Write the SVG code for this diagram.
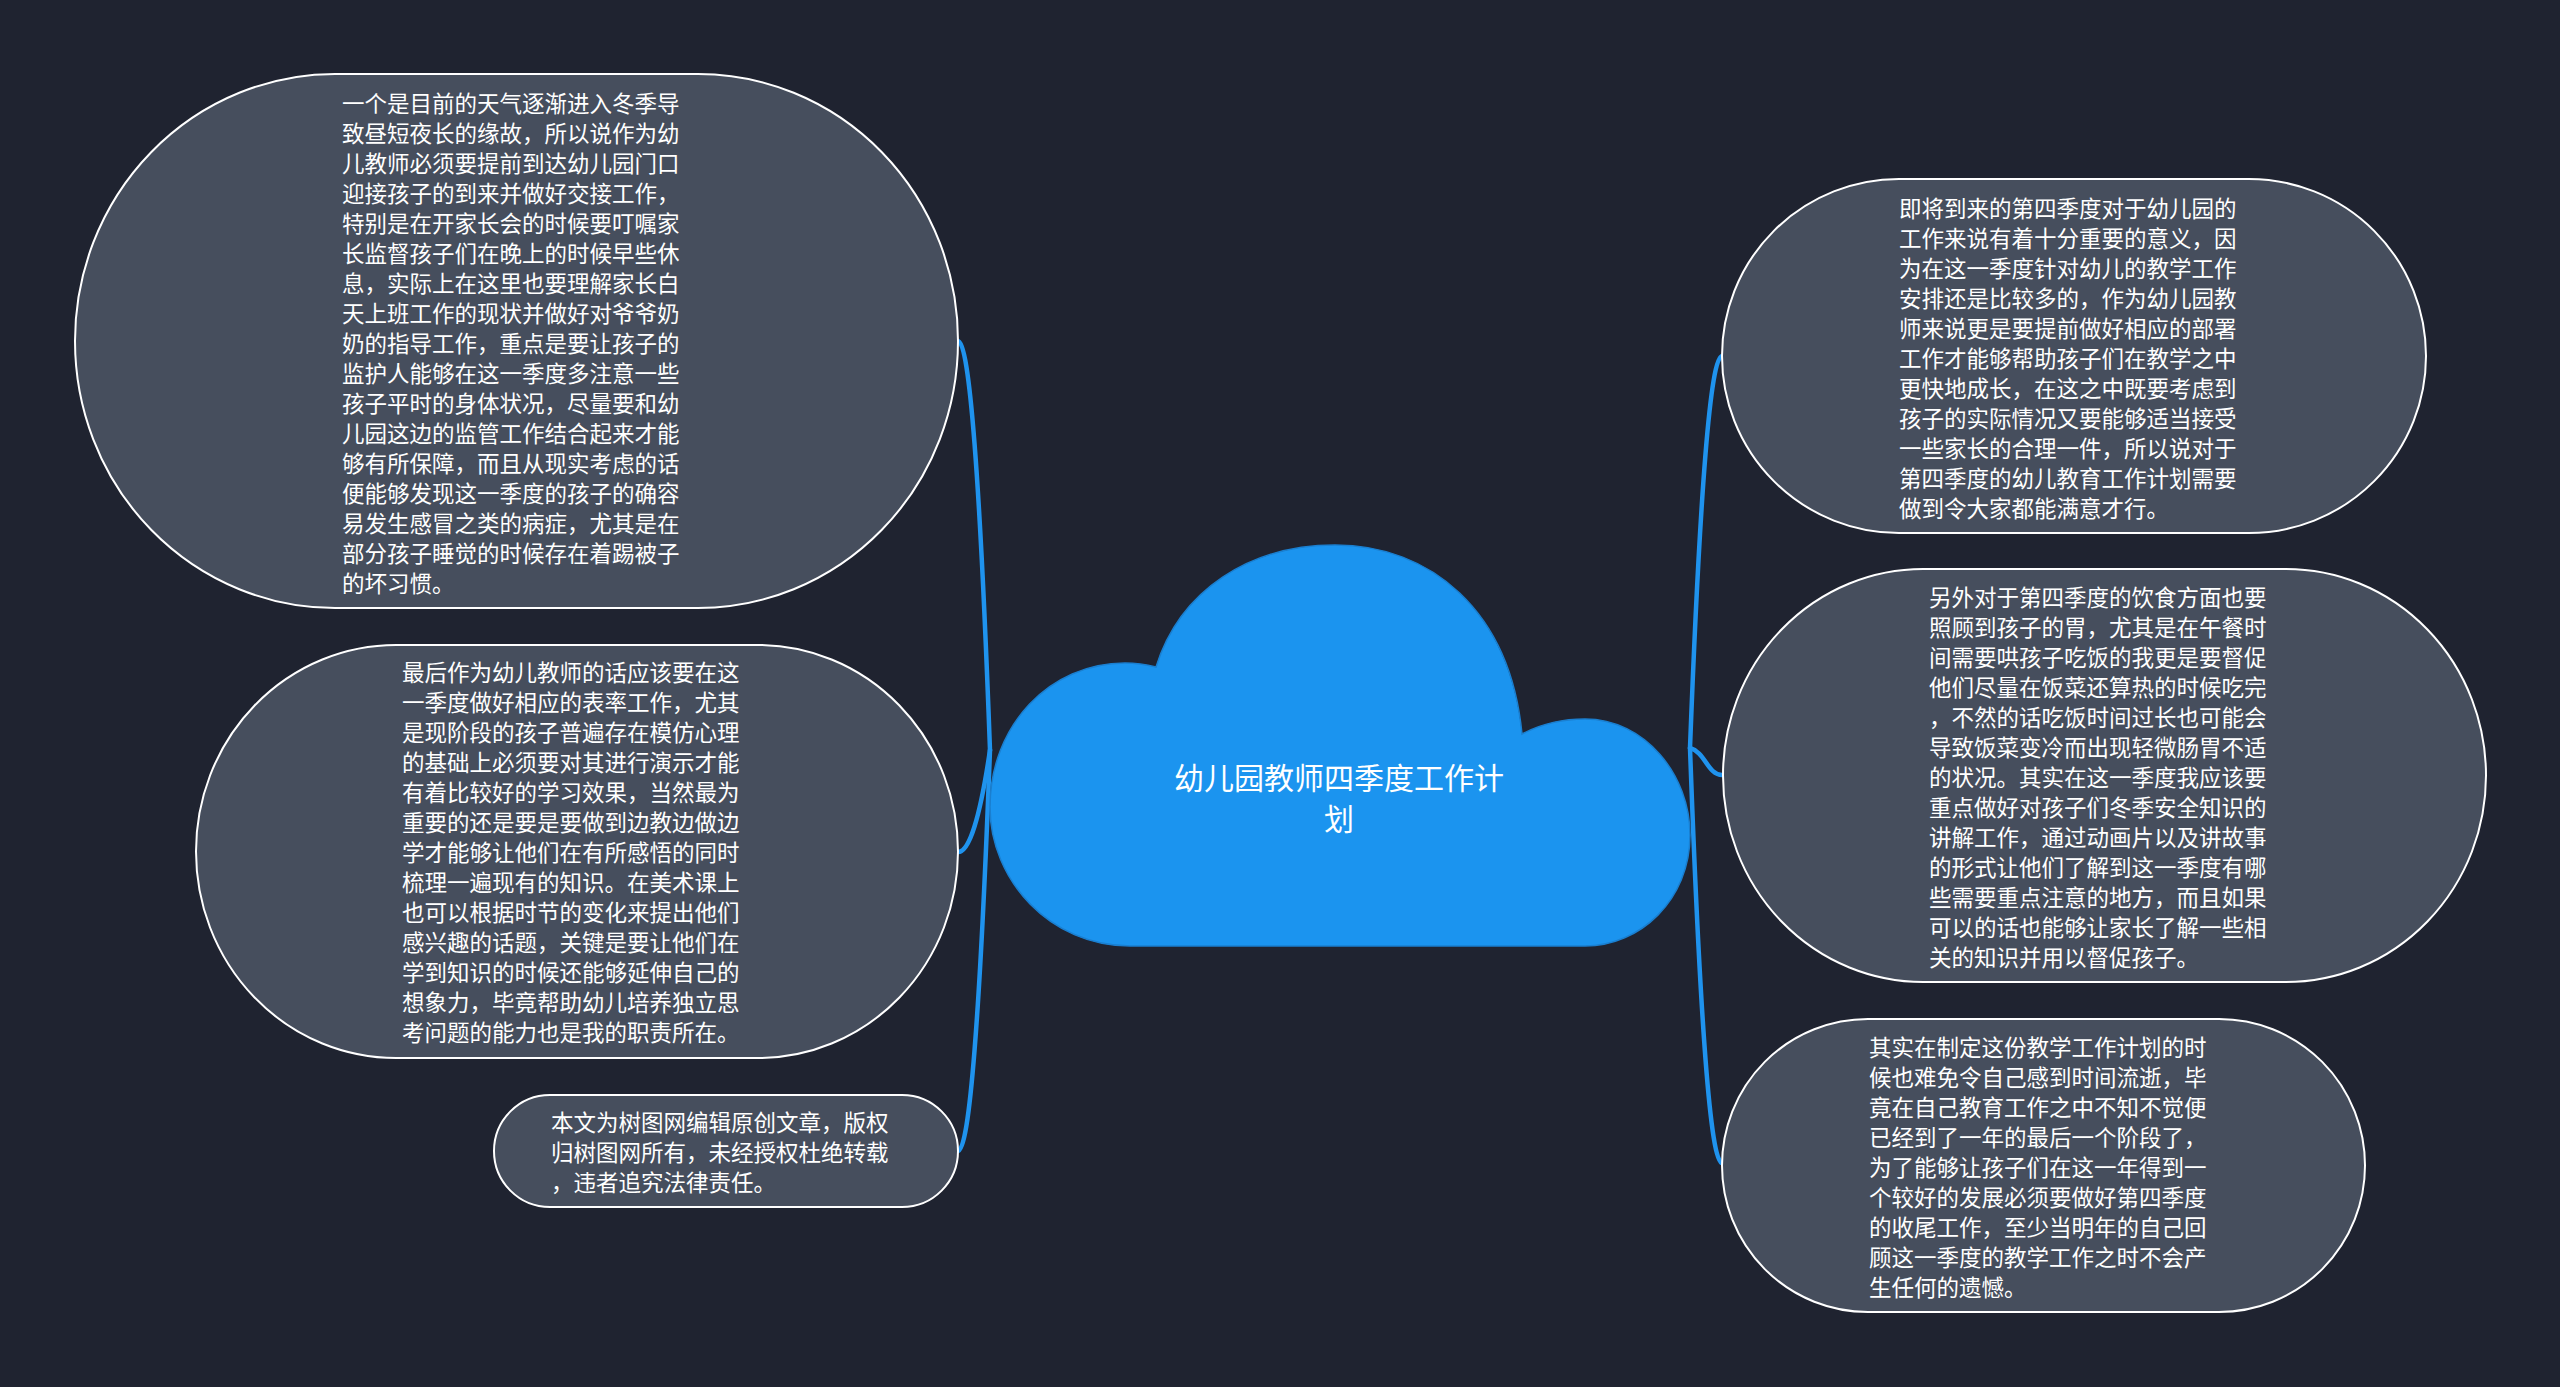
<svg xmlns="http://www.w3.org/2000/svg" width="2560" height="1387" viewBox="0 0 2560 1387">
<style>
.bg{fill:#1f2330}
.node{fill:#464e5d;stroke:#ffffff;stroke-width:2}
.t{font-family:"Noto Sans CJK SC","Noto Sans",sans-serif;font-size:22.5px;fill:#ffffff}
.ct{font-family:"Noto Sans CJK SC","Noto Sans",sans-serif;font-size:30px;fill:#ffffff;text-anchor:middle}
.edge{fill:none;stroke:#1f93ee;stroke-width:4.5;stroke-linecap:round}
</style>
<rect class="bg" x="0" y="0" width="2560" height="1387"/>
<g id="connectors">
<path class="edge" d="M990 750 Q975 341 958 341"/>
<path class="edge" d="M990 750 Q975 852 958 852"/>
<path class="edge" d="M990 750 Q975 1151 958 1151"/>
<path class="edge" d="M1690 748 Q1705 356 1722 356"/>
<path class="edge" d="M1690 748 C1705 752 1708 775 1722 775"/>
<path class="edge" d="M1690 748 Q1705 1163 1722 1163"/>
</g>
<g id="center">
<path d="M1156 667 C1180 590 1250 545 1335 545 C1430 545 1510 610 1522 734 C1545 722 1565 719 1585 719 C1645 719 1690 775 1690 835 C1690 900 1640 946 1585 946 L1130 946 C1050 946 990 880 990 807 C990 725 1050 663 1125 663 C1138 663 1148 665 1156 667 Z" fill="#1b94ef" stroke="#1a7fd0" stroke-width="1.5"/>
<text class="ct" x="1339" y="789">幼儿园教师四季度工作计</text>
<text class="ct" x="1339" y="830">划</text>
</g>
<g id="node-l1">
<rect class="node" x="75" y="74" width="883" height="534" rx="260" ry="267"/>
<text class="t" x="342" y="111.5"><tspan x="342">一个是目前的天气逐渐进入冬季导</tspan><tspan x="342" dy="30">致昼短夜长的缘故，所以说作为幼</tspan><tspan x="342" dy="30">儿教师必须要提前到达幼儿园门口</tspan><tspan x="342" dy="30">迎接孩子的到来并做好交接工作，</tspan><tspan x="342" dy="30">特别是在开家长会的时候要叮嘱家</tspan><tspan x="342" dy="30">长监督孩子们在晚上的时候早些休</tspan><tspan x="342" dy="30">息，实际上在这里也要理解家长白</tspan><tspan x="342" dy="30">天上班工作的现状并做好对爷爷奶</tspan><tspan x="342" dy="30">奶的指导工作，重点是要让孩子的</tspan><tspan x="342" dy="30">监护人能够在这一季度多注意一些</tspan><tspan x="342" dy="30">孩子平时的身体状况，尽量要和幼</tspan><tspan x="342" dy="30">儿园这边的监管工作结合起来才能</tspan><tspan x="342" dy="30">够有所保障，而且从现实考虑的话</tspan><tspan x="342" dy="30">便能够发现这一季度的孩子的确容</tspan><tspan x="342" dy="30">易发生感冒之类的病症，尤其是在</tspan><tspan x="342" dy="30">部分孩子睡觉的时候存在着踢被子</tspan><tspan x="342" dy="30">的坏习惯。</tspan></text>
</g>
<g id="node-l2">
<rect class="node" x="196" y="645" width="762" height="413" rx="200" ry="206.5"/>
<text class="t" x="402" y="680.5"><tspan x="402">最后作为幼儿教师的话应该要在这</tspan><tspan x="402" dy="30">一季度做好相应的表率工作，尤其</tspan><tspan x="402" dy="30">是现阶段的孩子普遍存在模仿心理</tspan><tspan x="402" dy="30">的基础上必须要对其进行演示才能</tspan><tspan x="402" dy="30">有着比较好的学习效果，当然最为</tspan><tspan x="402" dy="30">重要的还是要是要做到边教边做边</tspan><tspan x="402" dy="30">学才能够让他们在有所感悟的同时</tspan><tspan x="402" dy="30">梳理一遍现有的知识。在美术课上</tspan><tspan x="402" dy="30">也可以根据时节的变化来提出他们</tspan><tspan x="402" dy="30">感兴趣的话题，关键是要让他们在</tspan><tspan x="402" dy="30">学到知识的时候还能够延伸自己的</tspan><tspan x="402" dy="30">想象力，毕竟帮助幼儿培养独立思</tspan><tspan x="402" dy="30">考问题的能力也是我的职责所在。</tspan></text>
</g>
<g id="node-l3">
<rect class="node" x="494" y="1095" width="464" height="112" rx="56" ry="56"/>
<text class="t" x="551" y="1130.5"><tspan x="551">本文为树图网编辑原创文章，版权</tspan><tspan x="551" dy="30">归树图网所有，未经授权杜绝转载</tspan><tspan x="551" dy="30">，违者追究法律责任。</tspan></text>
</g>
<g id="node-r1">
<rect class="node" x="1722" y="179" width="704" height="354" rx="177" ry="177"/>
<text class="t" x="1899" y="216.5"><tspan x="1899">即将到来的第四季度对于幼儿园的</tspan><tspan x="1899" dy="30">工作来说有着十分重要的意义，因</tspan><tspan x="1899" dy="30">为在这一季度针对幼儿的教学工作</tspan><tspan x="1899" dy="30">安排还是比较多的，作为幼儿园教</tspan><tspan x="1899" dy="30">师来说更是要提前做好相应的部署</tspan><tspan x="1899" dy="30">工作才能够帮助孩子们在教学之中</tspan><tspan x="1899" dy="30">更快地成长，在这之中既要考虑到</tspan><tspan x="1899" dy="30">孩子的实际情况又要能够适当接受</tspan><tspan x="1899" dy="30">一些家长的合理一件，所以说对于</tspan><tspan x="1899" dy="30">第四季度的幼儿教育工作计划需要</tspan><tspan x="1899" dy="30">做到令大家都能满意才行。</tspan></text>
</g>
<g id="node-r2">
<rect class="node" x="1723" y="569" width="763" height="413" rx="200" ry="206.5"/>
<text class="t" x="1929" y="605.5"><tspan x="1929">另外对于第四季度的饮食方面也要</tspan><tspan x="1929" dy="30">照顾到孩子的胃，尤其是在午餐时</tspan><tspan x="1929" dy="30">间需要哄孩子吃饭的我更是要督促</tspan><tspan x="1929" dy="30">他们尽量在饭菜还算热的时候吃完</tspan><tspan x="1929" dy="30">，不然的话吃饭时间过长也可能会</tspan><tspan x="1929" dy="30">导致饭菜变冷而出现轻微肠胃不适</tspan><tspan x="1929" dy="30">的状况。其实在这一季度我应该要</tspan><tspan x="1929" dy="30">重点做好对孩子们冬季安全知识的</tspan><tspan x="1929" dy="30">讲解工作，通过动画片以及讲故事</tspan><tspan x="1929" dy="30">的形式让他们了解到这一季度有哪</tspan><tspan x="1929" dy="30">些需要重点注意的地方，而且如果</tspan><tspan x="1929" dy="30">可以的话也能够让家长了解一些相</tspan><tspan x="1929" dy="30">关的知识并用以督促孩子。</tspan></text>
</g>
<g id="node-r3">
<rect class="node" x="1722" y="1019" width="643" height="293" rx="146" ry="146.5"/>
<text class="t" x="1869" y="1055.5"><tspan x="1869">其实在制定这份教学工作计划的时</tspan><tspan x="1869" dy="30">候也难免令自己感到时间流逝，毕</tspan><tspan x="1869" dy="30">竟在自己教育工作之中不知不觉便</tspan><tspan x="1869" dy="30">已经到了一年的最后一个阶段了，</tspan><tspan x="1869" dy="30">为了能够让孩子们在这一年得到一</tspan><tspan x="1869" dy="30">个较好的发展必须要做好第四季度</tspan><tspan x="1869" dy="30">的收尾工作，至少当明年的自己回</tspan><tspan x="1869" dy="30">顾这一季度的教学工作之时不会产</tspan><tspan x="1869" dy="30">生任何的遗憾。</tspan></text>
</g>
</svg>
